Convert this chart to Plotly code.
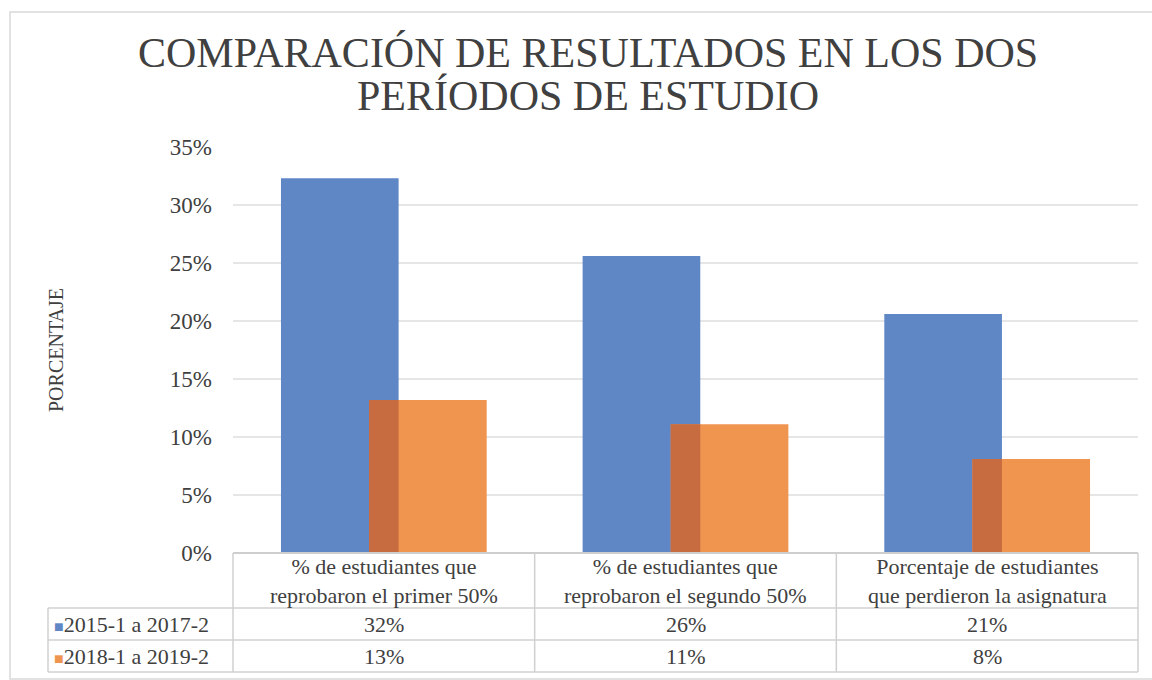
import plotly.graph_objects as go

categories = ["% de estudiantes que<br>reprobaron el primer 50%",
              "% de estudiantes que<br>reprobaron el segundo 50%",
              "Porcentaje de estudiantes<br>que perdieron la asignatura"]
series_names = ["2015-1 a 2017-2", "2018-1 a 2019-2"]
vals_2015 = [0.323, 0.256, 0.206]
vals_2018 = [0.132, 0.111, 0.081]
y_ticks = [0, 0.05, 0.10, 0.15, 0.20, 0.25, 0.30, 0.35]
title_lines = ["COMPARACIÓN DE RESULTADOS EN LOS DOS", "PERÍODOS DE ESTUDIO"]

BLUE = "#5f87c6"
ORANGE = "#f09550"
OVERLAP = "#c76c40"
TXT = "#404040"
GRID = "#e6e6e6"
BORDER = "#d0d0d0"
FONT = "Liberation Serif"

x = list(range(len(categories)))
W = 0.39
OFF = 0.146

fig = go.Figure()
fig.add_trace(go.Bar(x=x, y=vals_2015, width=W, offset=-OFF - W / 2,
                     marker=dict(color=BLUE, line=dict(width=0)),
                     name=series_names[0], showlegend=False))
fig.add_trace(go.Bar(x=x, y=vals_2018, width=W, offset=OFF - W / 2,
                     marker=dict(color=ORANGE, line=dict(width=0)),
                     name=series_names[1], showlegend=False))
# overlap region (where the orange bar overlaps the blue bar)
ov_start = OFF - W / 2
ov_end = -OFF + W / 2
fig.add_trace(go.Bar(x=x, y=[min(a, b) for a, b in zip(vals_2015, vals_2018)],
                     width=ov_end - ov_start, offset=ov_start,
                     marker=dict(color=OVERLAP, line=dict(width=0)),
                     showlegend=False, hoverinfo="skip"))

fig.update_layout(
    barmode="overlay",
    width=1152, height=680,
    margin=dict(l=233, r=14, t=147, b=127, autoexpand=False),
    paper_bgcolor="white", plot_bgcolor="white",
    font=dict(family=FONT, color=TXT, size=22),
    xaxis=dict(range=[-0.5, 2.5], showticklabels=False, showgrid=False,
               zeroline=False, showline=False, fixedrange=True),
    yaxis=dict(range=[0, 0.35], tickvals=y_ticks, tickformat=".0%",
               showgrid=True, gridcolor=GRID, gridwidth=1.5, zeroline=False,
               showline=False, ticks="", ticklabelstandoff=20, automargin=False,
               tickfont=dict(family=FONT, size=23, color=TXT)),
)

ph = 406.0
pw = 905.0
def py(p):
    return (553 - p) / ph
def px(p):
    return (p - 233) / pw

# title (two lines, tight spacing as in the reference)
for line, yc in zip(title_lines, [53, 96]):
    fig.add_annotation(text=line, xref="paper", yref="paper", x=px(588), y=py(yc),
                       xanchor="center", yanchor="middle", showarrow=False,
                       font=dict(family=FONT, size=42, color=TXT))

# y axis title
fig.add_annotation(text="PORCENTAJE", xref="paper", yref="paper", x=px(56), y=0.5,
                   xanchor="center", yanchor="middle",
                   textangle=-90, showarrow=False,
                   font=dict(family=FONT, size=20, color=TXT))

# data table below the plot
rows = [553, 608, 640, 672]
cols = [0, 1 / 3, 2 / 3, 1]
left = px(48)
shapes = []
# outer frame of the chart
shapes.append(dict(type="rect", xref="paper", yref="paper", x0=px(10), x1=px(1162),
                   y0=py(679), y1=py(12), line=dict(color="#d9d9d9", width=1.5)))
# axis line
shapes.append(dict(type="line", xref="paper", yref="paper", x0=0, x1=1, y0=0, y1=0,
                   line=dict(color="#c8c8c8", width=2)))
# horizontal table lines
for i, r in enumerate(rows):
    x0 = 0 if i == 0 else left
    shapes.append(dict(type="line", xref="paper", yref="paper", x0=x0, x1=1,
                       y0=py(r), y1=py(r), line=dict(color=BORDER, width=1.5)))
# vertical lines
for c in cols:
    shapes.append(dict(type="line", xref="paper", yref="paper", x0=c, x1=c,
                       y0=py(rows[0]), y1=py(rows[-1]), line=dict(color=BORDER, width=1.5)))
shapes.append(dict(type="line", xref="paper", yref="paper", x0=left, x1=left,
                   y0=py(rows[1]), y1=py(rows[-1]), line=dict(color=BORDER, width=1.5)))
fig.update_layout(shapes=shapes)

for i, cat in enumerate(categories):
    fig.add_annotation(text=cat, xref="x", yref="paper", x=i, y=py((rows[0] + rows[1]) / 2),
                       xanchor="center", yanchor="middle",
                       showarrow=False, font=dict(family=FONT, size=22, color=TXT),
                       align="center")
for j, (name, vals, col) in enumerate([(series_names[0], vals_2015, BLUE),
                                        (series_names[1], vals_2018, ORANGE)]):
    yc = py((rows[j + 1] + rows[j + 2]) / 2)
    fig.add_annotation(text=f"<span style='color:{col};font-size:16px'>■</span>{name}",
                       xref="paper", yref="paper", x=px(52), y=yc, xanchor="left",
                       yanchor="middle",
                       showarrow=False, font=dict(family=FONT, size=22, color=TXT))
    for i, v in enumerate(vals):
        fig.add_annotation(text=f"{round(v * 100):d}%", xref="x", yref="paper", x=i, y=yc,
                           xanchor="center", yanchor="middle",
                           showarrow=False, font=dict(family=FONT, size=22, color=TXT))

fig.write_html("out.html", config={"displayModeBar": False},
               post_script="document.body.style.margin='0';")
